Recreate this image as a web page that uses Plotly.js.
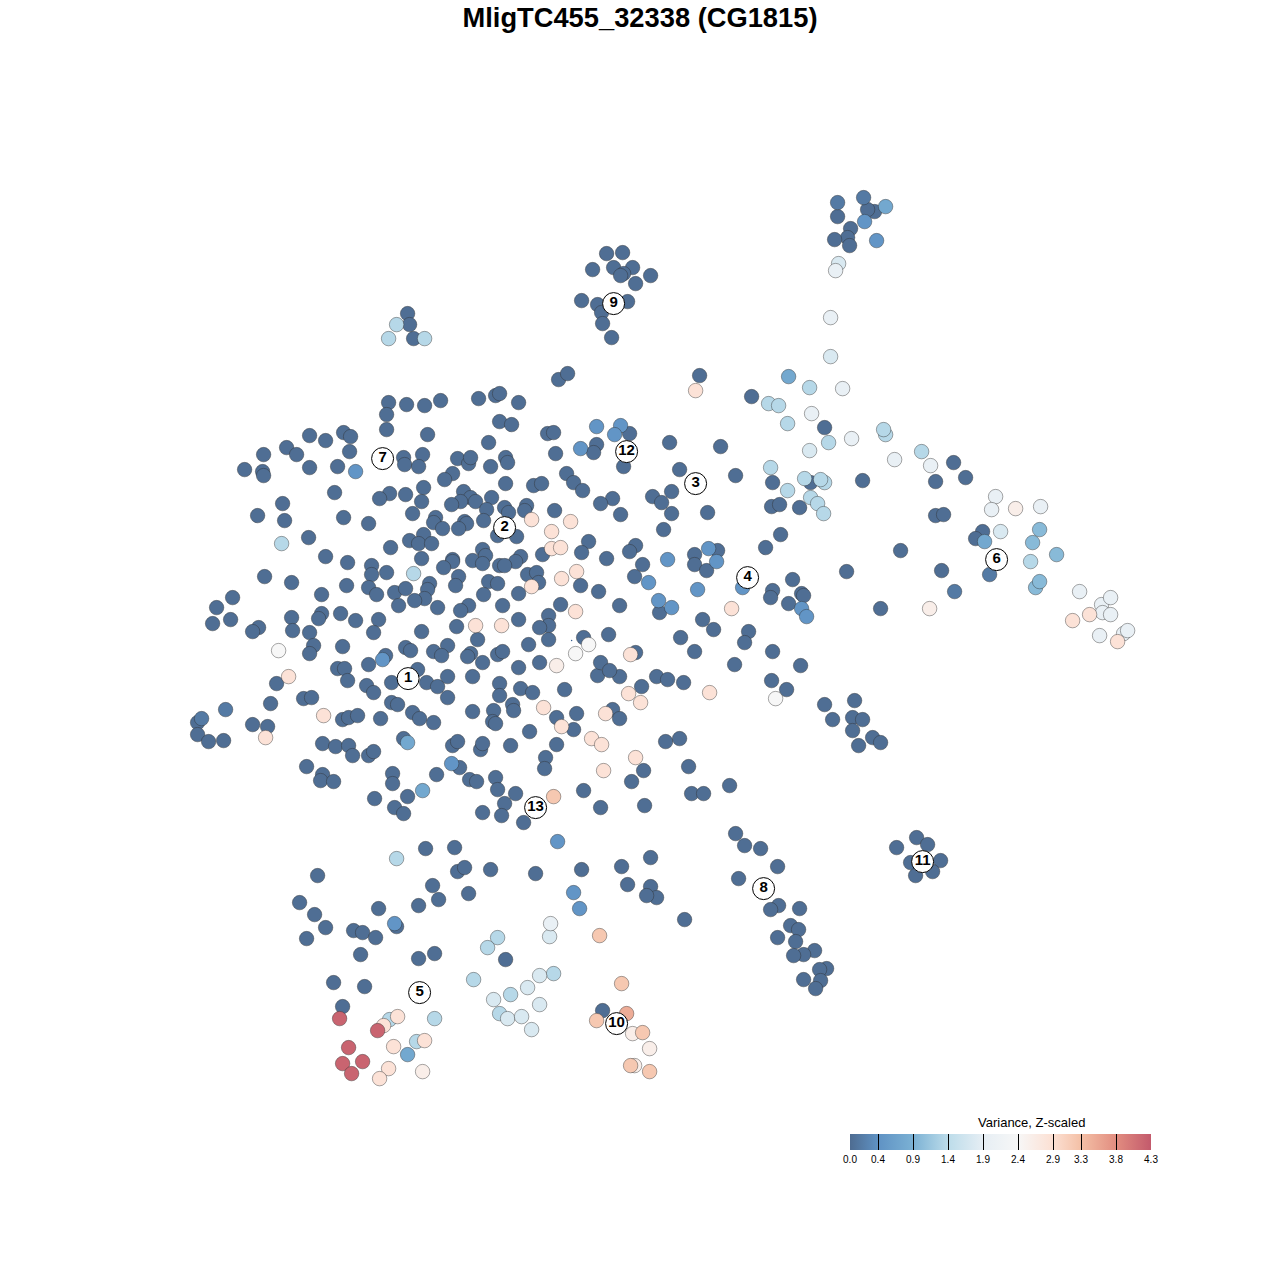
<!DOCTYPE html>
<html>
<head>
<meta charset="utf-8">
<script src="https://cdn.plot.ly/plotly-3.0.1.min.js"></script>
<style>html,body{margin:0;padding:0;background:#fff}#chart{width:1280px;height:1280px}</style>
</head>
<body>
<div id="chart"></div>
<script>
const darkCells = [[837,216],[874,211],[867,209],[850,228],[847,237],[834,239],[849,245],
[606,253],[622,252],[592,269],[613,267],[632,267],[623,273],[620,275],[650,275],[635,283],[581,300],[597,304],[627,301],[601,312],[602,323],[611,337],
[407,313],[409,324],[413,338],[558,379],[567,373],[699,375],
[388,402],[406,404],[424,405],[440,400],[478,398],[495,395],[499,393],[518,402],[386,414],[386,429],[427,434],[499,421],[511,424],[309,435],[325,440],[343,432],[350,436],[488,442],[263,454],[286,447],[296,454],[349,451],[403,457],[404,464],[422,454],[418,466],[457,458],[468,463],[470,457],[490,466],[244,469],[262,471],[263,475],[309,467],[337,466],[452,473],[444,479],[334,492],[389,493],[379,498],[405,494],[423,487],[421,501],[463,491],[470,497],[460,501],[451,504],[475,501],[491,497],[486,509],[282,503],[257,515],[284,520],[343,517],[368,523],[412,513],[435,517],[433,522],[442,528],[464,521],[466,523],[458,528],[483,520],[308,537],[325,556],[347,562],[390,547],[409,540],[423,534],[418,543],[431,543],[421,558],[452,559],[452,561],[443,567],[472,560],[482,549],[485,555],[482,563],[499,565],[371,565],[371,574],[386,572],[458,576],[455,585],[488,581],[497,583],[483,594],[264,576],[291,582],[346,585],[368,587],[376,594],[394,592],[405,588],[429,583],[427,589],[424,598],[414,600],[398,605],[437,607],[468,605],[460,610],[502,605],[321,594],[232,597],[216,607],[212,623],[230,619],[291,617],[321,613],[318,618],[340,613],[355,620],[378,619],[373,632],[258,627],[252,631],[292,630],[309,632],[456,626],[421,631],[477,639],[313,645],[309,653],[342,646],[405,647],[410,650],[433,651],[447,645],[441,655],[470,653],[467,656],[482,662],[497,654],[502,651],[385,655],[337,668],[344,668],[368,664],[276,683],[347,680],[366,685],[373,692],[391,682],[417,669],[426,682],[437,686],[447,676],[472,676],[499,683],[499,695],[447,697],[303,698],[311,697],[270,703],[391,702],[397,704],
[197,722],[197,734],[208,741],[223,740],[252,724],[267,726],[342,719],[348,717],[357,715],[380,718],[412,712],[419,718],[433,722],[472,711],[493,710],[492,721],[495,723],[322,743],[335,746],[348,745],[352,755],[368,755],[373,751],[403,738],[452,745],[457,741],[480,749],[482,743],[459,767],[436,774],[469,779],[476,781],[495,777],[497,789],[392,773],[392,783],[407,796],[374,798],[394,807],[403,813],[482,812],[504,803],[501,815],[306,766],[322,774],[320,780],[333,781],
[425,848],[454,847],[457,871],[464,867],[490,869],[317,875],[432,885],[438,899],[468,893],[418,905],[378,908],[299,902],[314,914],[325,927],[306,938],[353,930],[362,932],[375,937],[396,926],[360,954],[418,958],[434,953],[333,982],[364,986],[342,1006],[505,959],[602,1010],
[520,688],[532,692],[564,689],[597,675],[619,676],[641,686],[656,676],[667,679],[683,682],[771,680],[786,689],[512,704],[513,710],[556,717],[576,713],[573,729],[529,731],[510,745],[556,744],[612,709],[619,718],[665,741],[679,738],[545,757],[544,768],[643,770],[631,781],[688,766],[515,793],[523,822],[583,790],[600,807],[644,805],[691,793],[703,793],[729,785],
[735,833],[744,845],[760,848],[777,866],[738,878],[535,873],[581,869],[621,866],[650,857],[627,884],[650,886],[656,897],[646,895],[684,919],
[751,396],[547,433],[553,432],[629,433],[596,444],[593,452],[555,453],[669,442],[720,446],[505,457],[507,462],[623,466],[679,469],[566,473],[573,482],[582,490],[505,483],[533,485],[541,483],[735,475],[772,482],[652,496],[671,491],[661,502],[612,498],[600,503],[671,513],[707,512],[620,514],[504,507],[508,512],[526,505],[524,510],[554,510],[497,535],[516,536],[663,529],[780,534],[765,547],[771,506],[779,504],[799,507],[588,541],[581,552],[635,545],[629,551],[606,558],[542,554],[520,556],[515,561],[504,565],[694,554],[694,564],[717,550],[706,570],[642,564],[634,576],[580,585],[527,574],[536,572],[538,582],[598,591],[518,593],[619,605],[560,604],[659,612],[792,579],[772,590],[770,597],[788,603],[801,593],[803,595],[702,619],[713,629],[748,631],[744,642],[518,619],[548,615],[548,625],[539,627],[528,644],[548,639],[680,637],[608,634],[583,637],[635,652],[694,651],[772,651],[734,664],[800,665],[518,667],[539,662],[600,662],[609,670],
[824,427],[810,482],[862,480],[953,462],[935,481],[965,477],[935,515],[943,514],[900,550],[982,531],[975,538],[941,570],[846,571],[880,608],
[824,704],[854,700],[832,719],[852,717],[862,719],[852,730],[872,737],[880,742],[858,745],
[778,905],[770,909],[799,908],[790,925],[798,929],[777,937],[795,941],[814,950],[803,954],[793,955],[826,968],[819,969],[803,979],[820,980],[815,988],
[896,847],[916,837],[927,844],[910,862],[940,860],[932,871],[915,875],[922,861]];
const dimCells = [[225,709],[201,718],[954,591],[989,574],[837,202],[863,197]];
const blueCells = [[355,471],[382,659],[596,426],[620,425],[614,434],[580,448],[708,548],[716,561],[667,559],[648,582],[697,589],[658,600],[671,607],[742,587],[801,608],[806,616],[451,763],[394,923],[573,892],[579,908],[557,841],[864,221],[876,240]];
const skyCells = [[407,742],[422,790],[885,206],[788,376],[984,541],[407,1054]];
const paleBlueCells = [[1039,529],[1032,542],[1056,554],[1035,587],[1039,581]];
const lightCells = [[396,324],[388,338],[424,338],[281,543],[413,573],[396,858],[497,937],[487,947],[473,979],[553,973],[510,994],[499,1013],[434,1018],[389,1019],[416,1041],[768,403],[778,405],[809,387],[787,423],[828,442],[885,434],[883,429],[921,451],[770,467],[787,490],[824,482],[804,478],[820,479],[810,497],[817,503],[823,513],[1030,561]];
const mistCells = [[838,263],[830,356],[809,450],[1000,531],[527,987],[493,999],[539,1004],[507,1018],[521,1016],[531,1029],[539,975],[549,936]];
const paleCells = [[835,270],[830,317],[842,388],[811,413],[851,438],[894,459],[930,465],[995,496],[991,509],[1040,506],[550,923],[1079,591],[1101,604],[1102,612],[1110,597],[1110,614],[1099,635],[1123,633],[1127,630]];
const greyCells = [[278,650],[588,644],[575,653],[775,698]];
const blushCells = [[556,665],[1015,508],[929,608],[422,1071],[632,1033],[649,1048],[634,1065]];
const peachCells = [[288,676],[323,715],[265,737],[475,625],[501,625],[695,390],[531,519],[570,521],[551,531],[551,548],[560,547],[576,571],[561,578],[531,586],[575,611],[731,608],[630,654],[628,693],[640,702],[709,692],[543,707],[561,726],[605,713],[591,738],[601,744],[635,757],[603,770],[1089,614],[1072,620],[1117,641],[383,1025],[397,1016],[424,1040],[393,1046],[388,1068],[379,1078]];
const apricotCells = [[553,796],[599,935],[621,983],[596,1020],[642,1032],[649,1071],[630,1065]];
const salmonCells = [[626,1013]];
const redCells = [[339,1018],[377,1030],[348,1047],[362,1061],[342,1063],[351,1073]];
const cellGroups = [darkCells,dimCells,blueCells,skyCells,paleBlueCells,lightCells,mistCells,paleCells,greyCells,blushCells,peachCells,apricotCells,salmonCells,redCells];
const groupVariance = [0.02,0.15,0.45,0.75,1.0,1.35,1.75,2.0,2.4,2.6,2.85,3.2,3.5,4.2];

const clusterIds = ["1","2","3","4","5","6","7","8","9","10","11","12","13"];
const clusterX = [407.5,504,695,747,419,996,382,763,613,616,922,626,535];
const clusterY = [678,527,483,577,992,559,458,888,303,1023,861,451,807];
const speckX = [571];
const speckY = [640];

const tickVals = [0.0,0.4,0.9,1.4,1.9,2.4,2.9,3.3,3.8,4.3];
const tickText = ["0.0","0.4","0.9","1.4","1.9","2.4","2.9","3.3","3.8","4.3"];
const rampColors = ["#4e6c91","#5f92c4","#7bb1d4","#bcdcea","#e6eef4","#f7f7f7","#fce0d3","#f4c0a6","#e28d80","#c35a6c"];

const xs=[],ys=[],vals=[];
cellGroups.forEach((g,i)=>g.forEach(p=>{xs.push(p[0]);ys.push(p[1]);vals.push(groupVariance[i]);}));

const W=1280,H=1280;
const traces=[
 {type:'scatter',mode:'markers',x:speckX,y:speckY,marker:{size:1.5,color:'#3a5f8f'},hoverinfo:'skip'},
 {type:'scatter',mode:'markers',x:xs,y:ys,
  marker:{size:14.5,color:vals,cmin:0,cmax:4.3,
   colorscale:tickVals.map((v,i)=>[v/4.3,rampColors[i]]),
   line:{color:'rgba(45,45,45,0.42)',width:1},
   showscale:true,
   colorbar:{orientation:'h',x:850/W,xanchor:'left',y:(H-1180.5)/H,yanchor:'bottom',
     len:300.5/W,lenmode:'fraction',thickness:16,thicknessmode:'pixels',xpad:0,ypad:0,
     outlinewidth:0,borderwidth:0,
     tickmode:'array',tickvals:tickVals,ticktext:tickText,ticks:'inside',ticklen:16,tickwidth:1,tickcolor:'#000',
     tickangle:0,tickfont:{family:'Liberation Sans',size:10,color:'#000'}}}},
 {type:'scatter',mode:'markers+text',x:clusterX,y:clusterY,text:clusterIds,textposition:'middle center',
  textfont:{family:'Liberation Sans',size:15,color:'#000',weight:700},
  marker:{size:22,color:'#fff',line:{color:'#000',width:1}},hoverinfo:'text'}
];
const layout={width:W,height:H,margin:{l:0,r:0,t:0,b:0},showlegend:false,
 paper_bgcolor:'#fff',plot_bgcolor:'#fff',
 title:{text:'MligTC455_32338 (CG1815)',x:0.5,xanchor:'center',xref:'paper',y:1-17/H,yanchor:'middle',yref:'container',
   font:{family:'Liberation Sans',size:27.3,color:'#000',weight:700}},
 xaxis:{range:[-0.6,W-0.6],visible:false,fixedrange:true},
 yaxis:{range:[H-0.6,-0.6],visible:false,fixedrange:true},
 annotations:[{text:'Variance, Z-scaled',xref:'paper',yref:'paper',x:1031.5/W,y:(H-1122)/H,xanchor:'center',yanchor:'middle',showarrow:false,
   font:{family:'Liberation Sans',size:13,color:'#000'}}]
};
Plotly.newPlot('chart',traces,layout,{displayModeBar:false,responsive:false});
</script>
</body>
</html>
